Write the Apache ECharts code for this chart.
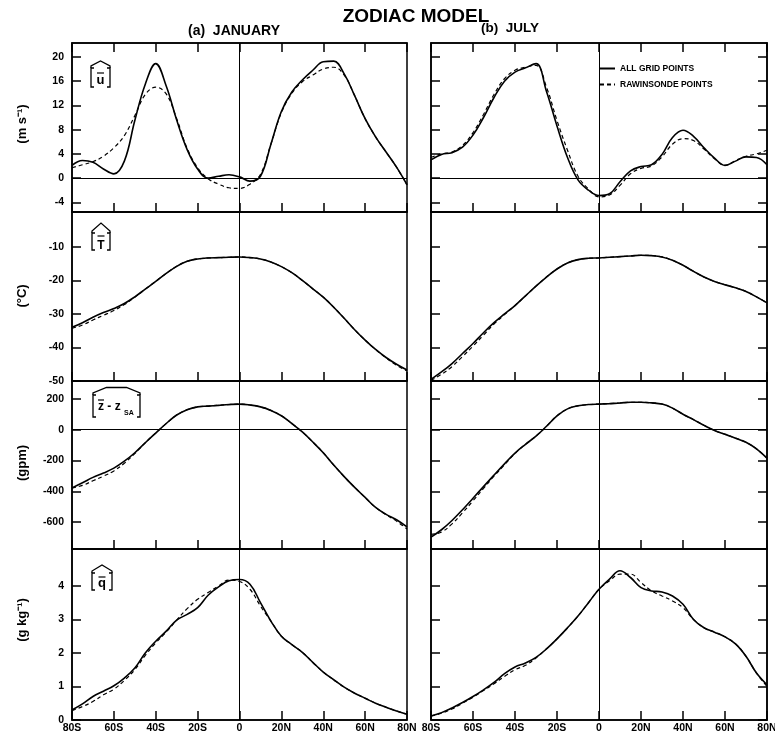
<!DOCTYPE html>
<html>
<head>
<meta charset="utf-8">
<script src="https://cdn.jsdelivr.net/npm/echarts@6/dist/echarts.min.js"></script>
<style>
  html, body { margin: 0; padding: 0; background: #fff; }
  #chart { width: 775px; height: 737px; }
</style>
</head>
<body>
<div id="chart"></div>
<script>
// latitude, 80S..80N every 5 deg (south negative)
var lats = [-80,-75,-70,-65,-60,-55,-50,-45,-40,-35,-30,-25,-20,-15,-10,-5,0,5,10,15,20,25,30,35,40,45,50,55,60,65,70,75,80];
var latTicks = [-80,-60,-40,-20,0,20,40,60,80];
var latLabels = ['80S','60S','40S','20S','0','20N','40N','60N','80N'];

// [u] m/s
var uJanGrid = [2.1,2.9,2.6,1.5,0.7,2.8,9.5,15.5,18.9,15.2,9.6,4.7,1.5,0.0,0.3,0.55,0.2,-0.5,0.3,5.6,11.0,14.2,16.2,17.8,19.2,19.3,17.2,13.6,9.8,6.8,4.3,1.8,-1.1];
var uJanRaob = [1.7,2.2,2.7,3.6,5.0,7.0,10.3,13.8,15.0,13.9,9.8,4.9,1.7,-0.1,-1.0,-1.6,-1.7,-1.0,0.6,5.6,10.8,14.0,15.9,17.0,18.0,18.3,17.0,13.6,9.8,6.8,4.3,1.8,-1.1];
var uJulGrid = [3.0,3.9,4.2,5.1,7.1,10.0,13.3,16.0,17.5,18.2,18.9,14.3,8.6,3.4,-0.3,-2.0,-2.9,-2.6,-0.6,1.2,1.9,2.2,3.9,6.7,7.9,6.9,5.0,3.3,2.1,2.8,3.5,3.4,2.2];
var uJulRaob = [3.4,4.0,4.3,5.4,7.5,10.5,13.8,16.4,17.8,18.3,18.6,15.0,9.5,4.6,0.3,-1.8,-3.1,-2.8,-1.2,0.7,1.6,2.0,3.5,5.6,6.5,6.2,4.8,3.2,2.1,2.9,3.6,4.0,4.6];

// [T] deg C
var tJanGrid = [-34.0,-32.6,-31.0,-29.6,-28.4,-26.9,-24.9,-22.6,-20.3,-17.9,-15.8,-14.3,-13.6,-13.3,-13.2,-13.1,-13.0,-13.2,-13.6,-14.5,-15.9,-17.7,-20.0,-22.5,-25.0,-28.0,-31.3,-34.7,-37.8,-40.6,-43.0,-45.0,-46.7];
var tJanRaob = [-34.3,-33.3,-31.8,-30.4,-29.0,-27.2,-25.0,-22.6,-20.3,-17.9,-15.8,-14.3,-13.6,-13.3,-13.2,-13.1,-13.0,-13.2,-13.6,-14.5,-15.9,-17.7,-20.0,-22.5,-25.0,-28.0,-31.3,-34.7,-37.8,-40.6,-43.1,-45.3,-47.0];
var tJulGrid = [-49.5,-47.3,-44.8,-41.8,-38.8,-35.6,-32.6,-30.0,-27.5,-24.6,-21.7,-19.0,-16.6,-14.8,-13.8,-13.4,-13.3,-13.1,-12.9,-12.7,-12.5,-12.6,-13.0,-14.0,-15.5,-17.3,-19.0,-20.3,-21.3,-22.2,-23.3,-24.9,-26.7];
var tJulRaob = [-49.8,-48.0,-45.7,-42.7,-39.6,-36.3,-33.0,-30.2,-27.5,-24.6,-21.7,-19.0,-16.6,-14.8,-13.8,-13.4,-13.3,-13.1,-12.9,-12.7,-12.5,-12.6,-13.0,-14.0,-15.5,-17.3,-19.0,-20.3,-21.3,-22.2,-23.3,-24.9,-26.7];

// [z - zSA] gpm
var zJanGrid = [-378,-345,-310,-282,-250,-205,-150,-85,-22,40,95,130,148,153,158,163,166,160,148,125,90,40,-15,-80,-150,-230,-305,-375,-440,-505,-550,-585,-632];
var zJanRaob = [-380,-362,-332,-302,-268,-218,-155,-85,-22,40,95,130,148,153,158,163,166,160,148,125,90,40,-15,-80,-150,-230,-305,-375,-440,-505,-552,-594,-645];
var zJulGrid = [-698,-650,-590,-520,-445,-370,-295,-222,-152,-95,-42,22,90,135,155,163,166,169,173,178,178,174,166,140,100,65,28,-5,-30,-55,-82,-125,-185];
var zJulRaob = [-680,-665,-612,-540,-462,-382,-302,-228,-155,-95,-42,22,90,135,155,163,166,169,173,178,178,174,166,140,100,65,28,-5,-30,-55,-82,-125,-185];

// [q] g/kg
var qJanGrid = [0.30,0.48,0.70,0.86,1.02,1.25,1.55,2.00,2.35,2.65,2.98,3.15,3.35,3.72,3.97,4.15,4.19,4.05,3.50,2.95,2.50,2.25,2.02,1.72,1.43,1.20,0.98,0.80,0.65,0.50,0.38,0.27,0.17];
var qJanRaob = [0.28,0.40,0.55,0.75,0.92,1.18,1.50,1.93,2.30,2.62,2.98,3.32,3.60,3.80,4.00,4.17,4.13,3.90,3.40,2.95,2.50,2.25,2.02,1.72,1.43,1.20,0.98,0.80,0.65,0.50,0.38,0.27,0.17];
var qJulGrid = [0.12,0.22,0.36,0.52,0.70,0.90,1.12,1.38,1.58,1.70,1.87,2.12,2.42,2.75,3.10,3.50,3.90,4.20,4.45,4.25,3.95,3.85,3.82,3.70,3.45,3.00,2.75,2.62,2.48,2.27,1.90,1.40,1.05];
var qJulRaob = [0.12,0.20,0.33,0.50,0.68,0.88,1.08,1.30,1.50,1.63,1.85,2.12,2.42,2.75,3.10,3.50,3.90,4.15,4.35,4.35,4.10,3.85,3.70,3.55,3.35,3.00,2.75,2.62,2.48,2.27,1.90,1.40,1.00];

var uTicks = [-4,0,4,8,12,16,20];
var tTicks = [-50,-40,-30,-20,-10];
var zTicks = [-600,-400,-200,0,200];
var qTicks = [0,1,2,3,4];

var FONT = '"Liberation Sans", Arial, sans-serif';

var rows = [
  { min: -5.6, max: 22.3, ticks: uTicks, zero: true, data: [[uJanGrid, uJanRaob], [uJulGrid, uJulRaob]] },
  { min: -50, max: 0.4, ticks: tTicks, zero: false, data: [[tJanGrid, tJanRaob], [tJulGrid, tJulRaob]] },
  { min: -775, max: 316, ticks: zTicks, zero: true, data: [[zJanGrid, zJanRaob], [zJulGrid, zJulRaob]] },
  { min: 0, max: 5.1, ticks: qTicks, zero: false, data: [[qJanGrid, qJanRaob], [qJulGrid, qJulRaob]] }
];
var colLeft = [72, 431], colWidth = [335, 336];
var rowTop = [43, 212, 381, 549], rowHeight = [169, 169, 168, 171];

function pairs(vals) {
  return lats.map(function (x, k) { return [x, vals[k]]; });
}

var grids = [], xAxes = [], yAxes = [], series = [];
var tickStyle = { color: '#000', width: 1.5 };

for (var c = 0; c < 2; c++) {
  for (var r = 0; r < 4; r++) {
    var row = rows[r];
    var gi = grids.length;
    grids.push({
      left: colLeft[c], top: rowTop[r], width: colWidth[c], height: rowHeight[r],
      show: true, borderColor: '#000', borderWidth: 1.5, backgroundColor: 'transparent',
      containLabel: false, outerBoundsMode: 'none'
    });
    var xi = xAxes.length;
    xAxes.push({
      gridIndex: gi, type: 'value', min: -80, max: 80, interval: 20, position: 'bottom',
      axisLine: { show: true, onZero: false, lineStyle: tickStyle },
      axisTick: { show: true, inside: true, length: 9, lineStyle: tickStyle },
      axisLabel: {
        show: r === 3, color: '#000', fontFamily: FONT, fontSize: 10.5, fontWeight: 'bold', margin: 3,
        formatter: function (v) { return latLabels[latTicks.indexOf(v)]; }
      },
      splitLine: { show: false }
    });
    if (r === 0) {
      xAxes.push({
        gridIndex: gi, type: 'value', min: -80, max: 80, interval: 20, position: 'top',
        axisLine: { show: true, onZero: false, lineStyle: tickStyle },
        axisTick: { show: true, inside: true, length: 9, lineStyle: tickStyle },
        axisLabel: { show: false }, splitLine: { show: false }
      });
    }
    var yi = yAxes.length;
    yAxes.push({
      gridIndex: gi, type: 'value', min: row.min, max: row.max, position: 'left',
      axisLine: { show: true, onZero: false, lineStyle: tickStyle },
      axisTick: { show: true, inside: true, length: 9, lineStyle: tickStyle, customValues: row.ticks },
      axisLabel: {
        show: c === 0, customValues: row.ticks, color: '#000', fontFamily: FONT,
        fontSize: 10.5, fontWeight: 'bold', margin: 8
      },
      splitLine: { show: false }
    });
    if (c === 1) {
      yAxes.push({
        gridIndex: gi, type: 'value', min: row.min, max: row.max, position: 'right',
        axisLine: { show: true, onZero: false, lineStyle: tickStyle },
        axisTick: { show: true, inside: true, length: 9, lineStyle: tickStyle, customValues: row.ticks },
        axisLabel: { show: false }, splitLine: { show: false }
      });
    }
    var refLines = [{ xAxis: 0 }];
    if (row.zero) refLines.push({ yAxis: 0 });
    series.push({
      type: 'line', name: 'ALL GRID POINTS', xAxisIndex: xi, yAxisIndex: yi,
      data: pairs(row.data[c][0]), symbol: 'none', smooth: 0.4, z: 4,
      lineStyle: { color: '#000', width: 1.6 }, itemStyle: { color: '#000' },
      markLine: {
        silent: true, symbol: ['none', 'none'], label: { show: false },
        lineStyle: { color: '#000', width: 1, type: 'solid' },
        data: refLines
      }
    });
    series.push({
      type: 'line', name: 'RAWINSONDE POINTS', xAxisIndex: xi, yAxisIndex: yi,
      data: pairs(row.data[c][1]), symbol: 'none', smooth: 0.4, z: 3,
      lineStyle: { color: '#000', width: 1.2, type: [4, 3] }, itemStyle: { color: '#000' }
    });
  }
}

// bracketed panel symbols with a hat on top
function hatLabel(x0, x1, yTop, yBot, peakY, flat) {
  var mid = (x0 + x1) / 2;
  var st = { stroke: '#000', lineWidth: 1.3, fill: null };
  return [
    { type: 'polyline', shape: { points: [[x0 + 3, yTop], [x0, yTop], [x0, yBot], [x0 + 3, yBot]] }, style: st },
    { type: 'polyline', shape: { points: [[x1 - 3, yTop], [x1, yTop], [x1, yBot], [x1 - 3, yBot]] }, style: st },
    { type: 'polyline', shape: { points: [[x0, yTop], [x0, yTop - 2], [mid - flat / 2, peakY], [mid + flat / 2, peakY], [x1, yTop - 2], [x1, yTop]] }, style: st }
  ];
}
function txt(x, y, s, size, extra) {
  var o = {
    type: 'text', x: x, y: y,
    style: { text: s, fill: '#000', font: 'bold ' + size + 'px ' + FONT, textAlign: 'center', textVerticalAlign: 'middle' }
  };
  if (extra) for (var k in extra) o[k] = extra[k];
  return o;
}
function bar(x0, x1, y) {
  return { type: 'line', shape: { x1: x0, y1: y, x2: x1, y2: y }, style: { stroke: '#000', lineWidth: 1.2 } };
}

var graphics = [
  txt(416, 17, 'ZODIAC MODEL', 19),
  txt(234, 31, '(a)  JANUARY', 14),
  txt(510, 28, '(b)  JULY', 13.5),
  txt(22, 124, '(m s\u207B\u00B9)', 13, { rotation: Math.PI / 2 }),
  txt(22, 296, '(\u00B0C)', 13, { rotation: Math.PI / 2 }),
  txt(22, 463, '(gpm)', 13, { rotation: Math.PI / 2 }),
  txt(22, 620, '(g kg\u207B\u00B9)', 13, { rotation: Math.PI / 2 })
];
graphics = graphics.concat(hatLabel(91, 110, 68, 87, 61, 0), [txt(100.5, 80, 'u', 13), bar(97, 104, 73)]);
graphics = graphics.concat(hatLabel(92, 110, 233, 250, 223, 0), [txt(101, 245.5, 'T', 12), bar(97.5, 104.5, 236)]);
graphics = graphics.concat(hatLabel(93, 140, 395, 417, 387.5, 20), [
  { type: 'text', x: 98, y: 407, style: { text: 'z - z', fill: '#000', font: 'bold 12px ' + FONT, textAlign: 'left', textVerticalAlign: 'middle' } },
  { type: 'text', x: 124, y: 413, style: { text: 'SA', fill: '#000', font: 'bold 7px ' + FONT, textAlign: 'left', textVerticalAlign: 'middle' } },
  bar(98, 104, 400)
]);
graphics = graphics.concat(hatLabel(92, 112, 573, 590, 565, 0), [txt(102, 583, 'q', 13), bar(98.5, 105.5, 577)]);

var chart = echarts.init(document.getElementById('chart'));
chart.setOption({
  animation: false,
  backgroundColor: '#fff',
  grid: grids,
  xAxis: xAxes,
  yAxis: yAxes,
  legend: {
    data: ['ALL GRID POINTS', 'RAWINSONDE POINTS'],
    orient: 'vertical', left: 599, top: 64, padding: 0,
    itemWidth: 15, itemHeight: 8, itemGap: 7,
    itemStyle: { opacity: 0 },
    textStyle: { color: '#000', fontFamily: FONT, fontSize: 8.5, fontWeight: 'bold' },
    selectedMode: false
  },
  graphic: graphics,
  series: series
});
</script>
</body>
</html>
